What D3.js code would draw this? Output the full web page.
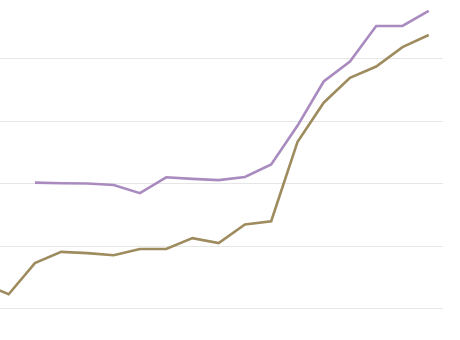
<!DOCTYPE html>
<html>
<head>
<meta charset="utf-8">
<script src="https://cdn.jsdelivr.net/npm/d3@7"></script>
<style>
  body { margin: 0; background: #fff; }
  svg { display: block; }
</style>
</head>
<body>
<div id="chart"></div>
<script>
// data
var years = [2004, 2005, 2006, 2007, 2008, 2009, 2010, 2011, 2012,
             2013, 2014, 2015, 2016, 2017, 2018, 2019, 2020, 2021];
var goldValues = [4.0, 2.2, 7.2, 9.0, 8.8, 8.45, 9.45, 9.45, 11.2,
                  10.4, 13.4, 13.9, 26.6, 32.9, 36.9, 38.7, 41.8, 43.75];
var purpleValues = [null, null, 20.1, 20.0, 19.95, 19.7, 18.4, 20.95, 20.7,
                    20.5, 21.0, 23.0, 29.2, 36.3, 39.5, 45.2, 45.2, 47.6];
var gridTicks = [0, 10, 20, 30, 40];

var svgWidth = 460;
var svgHeight = 340;

var svg = d3.select("#chart")
  .append("svg")
  .attr("width", svgWidth)
  .attr("height", svgHeight);

// plot area starts a little left of the window, so the first point is cut off
var xScale = d3.scaleLinear()
  .domain([years[0], years[years.length - 1]])
  .range([-17.6, 428.7]);

var yScale = d3.scaleLinear()
  .domain([0, 40])
  .range([308, 58.4]);

// gridlines
svg.append("g")
  .selectAll("line")
  .data(gridTicks)
  .enter()
  .append("line")
  .attr("x1", 0)
  .attr("x2", 443)
  .attr("y1", d => Math.round(yScale(d)) + 0.5)
  .attr("y2", d => Math.round(yScale(d)) + 0.5)
  .attr("stroke", "#e6e6e6")
  .attr("stroke-width", 1.2);

var series = [
  { values: goldValues, color: "#9e8c5f" },
  { values: purpleValues, color: "#a98bbf" }
];

var line = d3.line()
  .defined(d => d.v !== null)
  .x(d => xScale(d.year))
  .y(d => yScale(d.v));

svg.append("g")
  .selectAll("path")
  .data(series)
  .enter()
  .append("path")
  .attr("d", s => line(years.map((y, i) => ({ year: y, v: s.values[i] }))))
  .attr("fill", "none")
  .attr("stroke", s => s.color)
  .attr("stroke-width", 2.6)
  .attr("stroke-linejoin", "miter");
</script>
</body>
</html>
